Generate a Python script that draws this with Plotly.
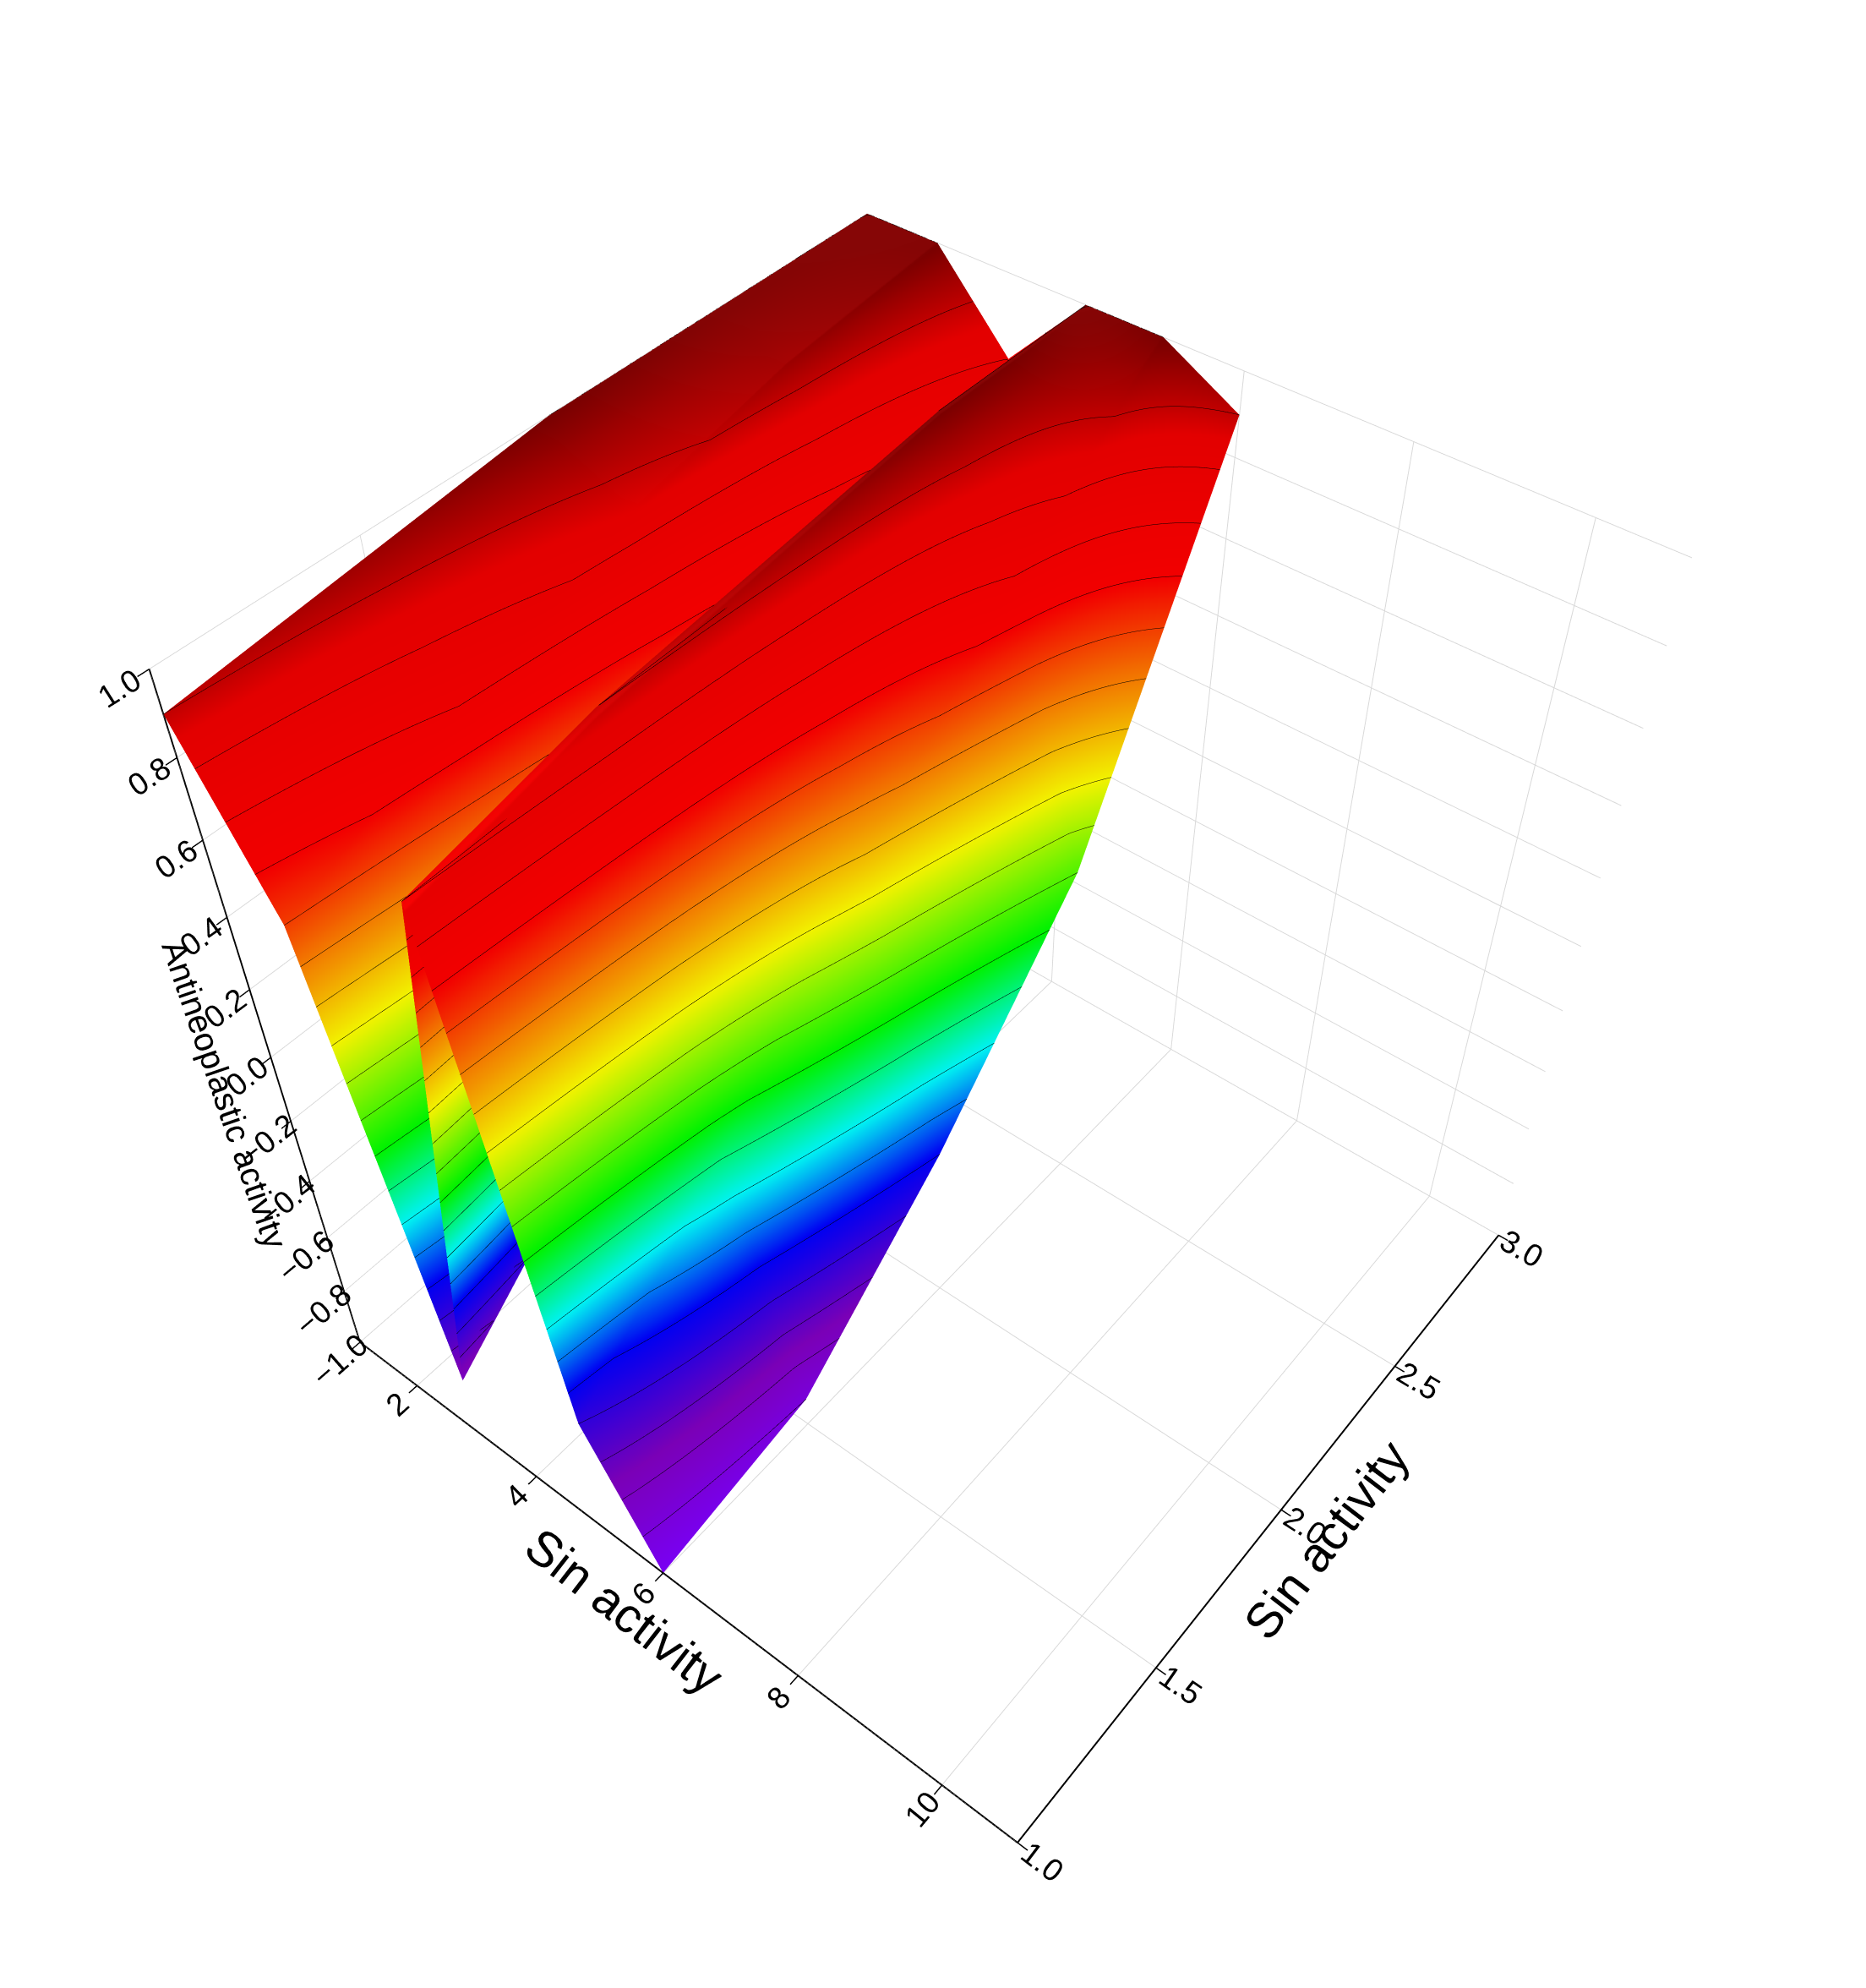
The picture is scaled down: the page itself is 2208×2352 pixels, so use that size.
import plotly.graph_objects as go

x_vals = [1, 2, 3, 4, 5, 6]
y_vals = [1.0, 1.5, 2.0, 2.5, 3.0]
z_vals = [
    [0.9, 0.5, -0.8, 0.8, -0.6, -1.0],
    [0.95, 0.7, -0.4, 0.9, -0.2, -0.9],
    [1.0, 0.85, 0.1, 0.95, 0.3, -0.5],
    [1.0, 0.95, 0.5, 1.0, 0.7, 0.0],
    [1.0, 1.0, 0.8, 1.0, 1.0, 0.9],
]

cs = [[0, "#7f00ff"], [0.12, "#8000c0"], [0.25, "#0000ff"], [0.35, "#00ffff"],
      [0.45, "#00ff00"], [0.6, "#ffff00"], [0.7, "#ff8000"], [0.8, "#ff0000"],
      [0.93, "#ee0000"], [1.0, "#800000"]]

fig = go.Figure(go.Surface(
    x=x_vals, y=y_vals, z=z_vals, colorscale=cs, cmin=-1, cmax=1, showscale=False,
    contours=dict(z=dict(show=True, start=-1, end=1, size=0.1, color="black", width=1)),
    lighting=dict(ambient=0.95, diffuse=0.15, specular=0.02),
))

def ax(title, tsize):
    return dict(showbackground=False, gridcolor="#d8d8d8", showline=True, linecolor="black",
                linewidth=4, ticks="outside", tickcolor="black", ticklen=12, tickwidth=3,
                tickfont=dict(family="Liberation Sans", size=21, color="black"),
                title=dict(text=title, font=dict(family="Liberation Sans", size=tsize, color="black")),
                showspikes=False, zeroline=False)

fig.update_layout(
    width=2208, height=2352, paper_bgcolor="white", margin=dict(l=0, r=0, t=0, b=0),
    scene=dict(
        xaxis=dict(ax("Sin activity", 58), range=[1, 11], tickvals=[2, 4, 6, 8, 10]),
        yaxis=dict(ax("Sin activity", 58), range=[1, 3], tickvals=[1.0, 1.5, 2.0, 2.5, 3.0], tickformat=".1f"),
        zaxis=dict(ax("Antineoplastic activity", 40), range=[-1, 1], dtick=0.2, tickformat=".1f"),
        aspectmode="manual", aspectratio=dict(x=1, y=1, z=1.05),
        camera=dict(eye=dict(x=1.08, y=-1.36, z=1.9)),
    ),
)
fig.write_html("out.html")
